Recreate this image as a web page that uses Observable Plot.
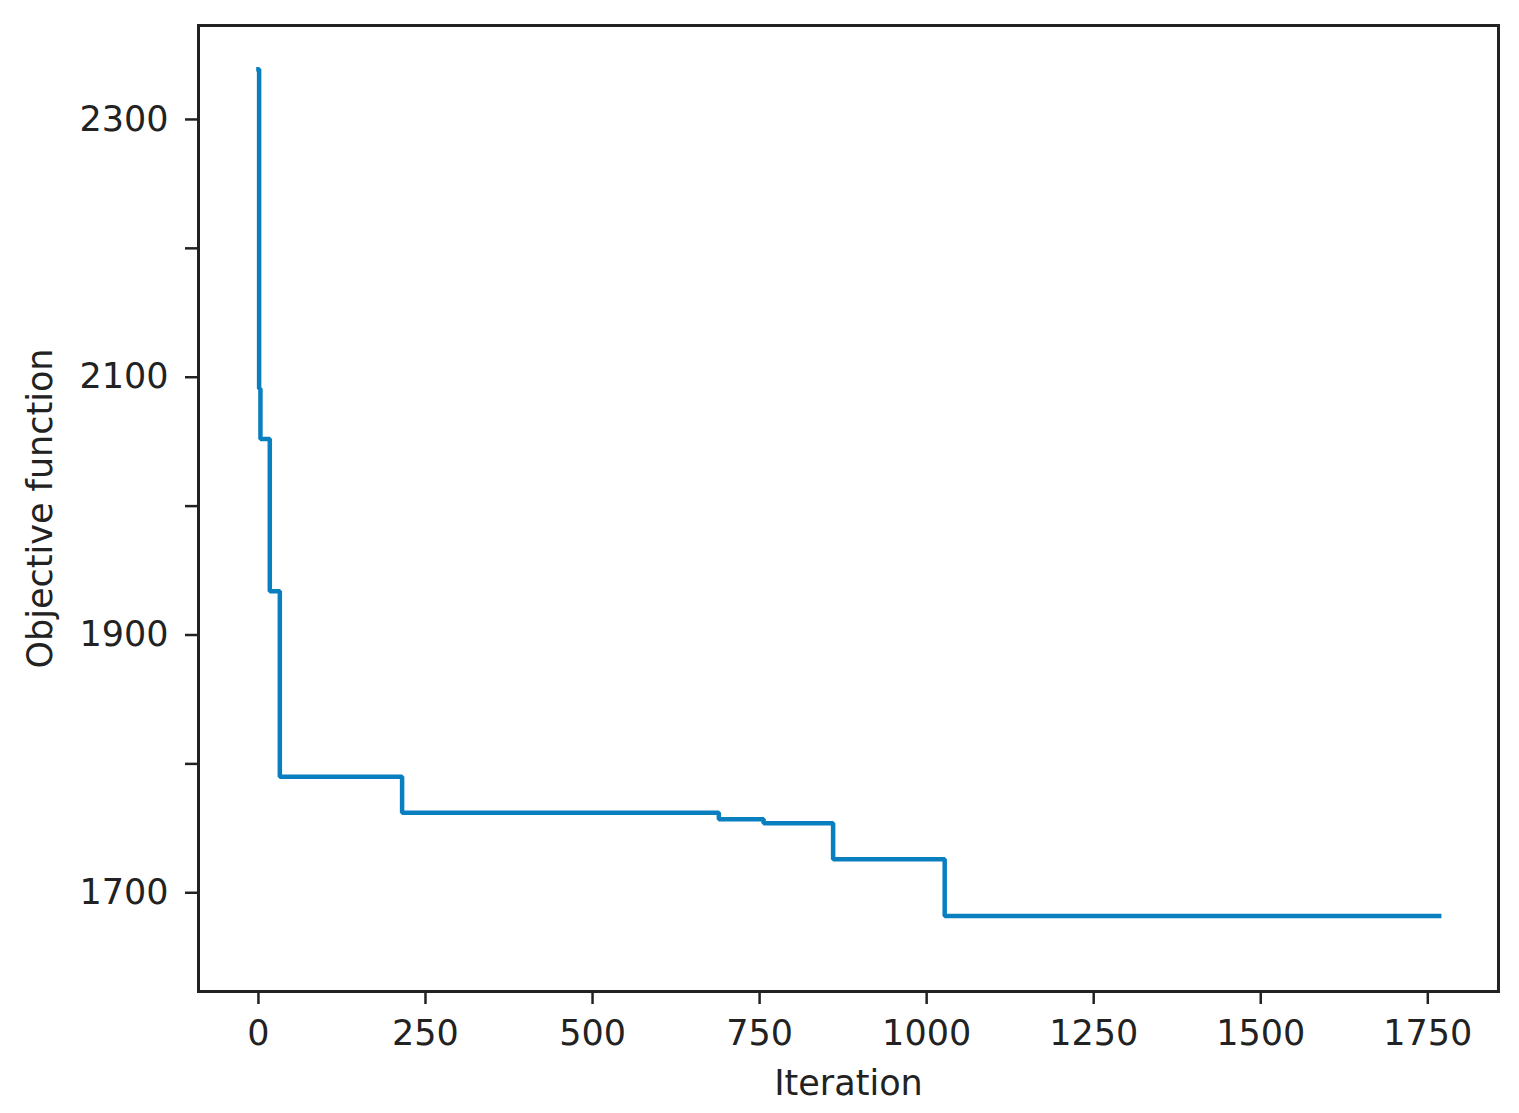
<!DOCTYPE html>
<html><head><meta charset="utf-8">
<script src="https://cdn.jsdelivr.net/npm/d3@7"></script>
<script src="https://cdn.jsdelivr.net/npm/@observablehq/plot@0.6"></script>
<style>html,body{margin:0;padding:0;background:#fff} svg{display:block}</style>
</head><body><div id="chart"></div>
<script>
// Step data: iteration where each new best value starts, and that best value
const iterations = [0, 1, 3, 17, 32, 215, 689, 756, 860, 1027, 1767];
const objective  = [2339, 2091, 2052, 1934, 1790, 1762, 1757, 1754, 1726, 1682, 1682];

const xTicks = [0, 250, 500, 750, 1000, 1250, 1500, 1750];
const yTicks = [1700, 1800, 1900, 2000, 2100, 2200, 2300];
const yTickLabels = ["1700", "", "1900", "", "2100", "", "2300"];

const xLabel = "Iteration";
const yLabel = "Objective function";

const data = iterations.map((it, i) => ({iteration: it, value: objective[i]}));

const chart = Plot.plot({
  width: 1519,
  height: 1113,
  marginLeft: 198,
  marginRight: 21,
  marginTop: 25,
  marginBottom: 122,
  style: {fontFamily: "'DejaVu Sans', sans-serif", fontSize: "35px", color: "#222", background: "#fff"},
  x: {domain: [-89.7, 1855.8]},
  y: {domain: [1623.4, 2372.9]},
  marks: [
    Plot.axisX({ticks: xTicks, tickSize: 13, tickPadding: 16, strokeWidth: 2.5, stroke: "#222",
      fontSize: 35, tickFormat: d => String(d), label: null}),
    Plot.axisY({ticks: yTicks, tickSize: 13, tickPadding: 17, strokeWidth: 2.5, stroke: "#222",
      fontSize: 35, tickFormat: d => yTickLabels[yTicks.indexOf(d)], label: null}),
    Plot.line(data, {x: "iteration", y: "value", curve: "step-after",
      stroke: "#0a7fc0", strokeWidth: 4.5, strokeLinecap: "square", strokeLinejoin: "miter"}),
    Plot.frame({stroke: "#222", strokeWidth: 3}),
    Plot.text([xLabel], {text: d => d, frameAnchor: "bottom", dy: 92, lineAnchor: "middle", textAnchor: "middle", fontSize: 35, fill: "#222"}),
    Plot.text([yLabel], {text: d => d, frameAnchor: "left", dx: -158, rotate: -90, lineAnchor: "middle", textAnchor: "middle", fontSize: 35, fill: "#222"})
  ]
});
document.getElementById("chart").appendChild(chart);
</script>
</body></html>
